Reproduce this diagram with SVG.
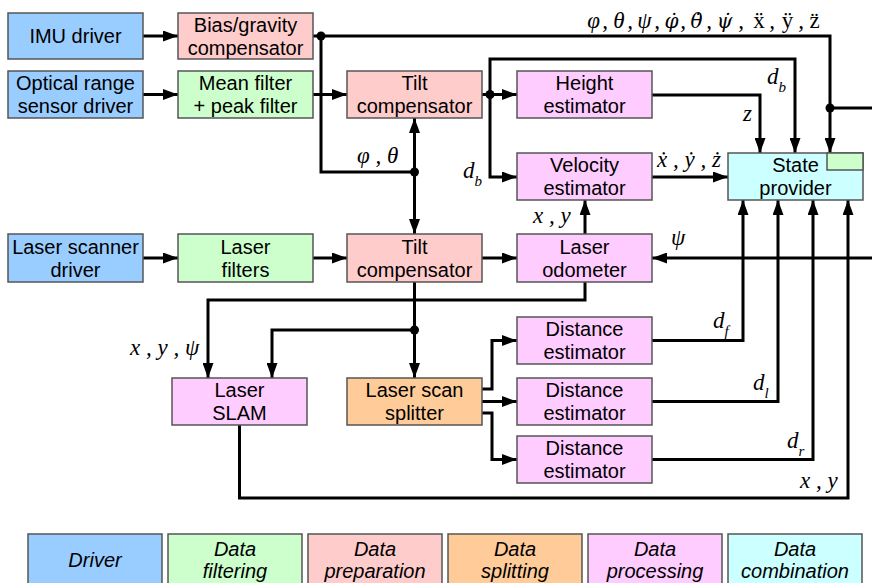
<svg xmlns="http://www.w3.org/2000/svg" width="872" height="583" viewBox="0 0 872 583">
<style>
.box{stroke:#555;stroke-width:1.5}
.drv{fill:#99ccff}.flt{fill:#ccffcc}.prp{fill:#ffcccc}.spl{fill:#ffcc99}.prc{fill:#ffccff}.cmb{fill:#ccffff}
.t{font-family:"Liberation Sans",Arial,sans-serif;font-size:20px;fill:#000;text-anchor:middle}
.lg{font-family:"Liberation Sans",Arial,sans-serif;font-size:20px;font-style:italic;fill:#000;text-anchor:middle}
.m{font-family:"Liberation Serif","DejaVu Serif",serif;font-size:23px;font-style:italic;fill:#000}
.mc{text-anchor:middle}
.mu{font-style:normal}
.dj{font-family:"DejaVu Serif",serif;font-size:20px}
.sub{font-size:15px}
.c{fill:none;stroke:#000;stroke-width:3}
.a{marker-end:url(#ah)}
</style>
<defs>
<marker id="ah" markerUnits="userSpaceOnUse" markerWidth="15" markerHeight="11" refX="15" refY="5.5" orient="auto">
<path d="M0,0 L15,5.5 L0,11 z" fill="#000"/>
</marker>
</defs>

<g id="connectors">
<path class="c a" d="M143,36 H178"/>
<path class="c a" d="M143,94.5 H178"/>
<path class="c a" d="M313,94.5 H347"/>
<path class="c a" d="M313,36 H830 V153"/>
<path class="c" d="M830,108 H872"/>
<path class="c" d="M321,36 V172 H414.5"/>
<path class="c a" d="M414.5,172 V118"/>
<path class="c a" d="M414.5,172 V234"/>
<path class="c a" d="M482,94.5 H517"/>
<path class="c a" d="M490,94.5 V59 H795 V153"/>
<path class="c a" d="M490,94.5 V177 H517"/>
<path class="c a" d="M652,95 H760 V153"/>
<path class="c a" d="M652,177 H728"/>
<path class="c a" d="M585,234 V200"/>
<path class="c a" d="M872,258 H652"/>
<path class="c a" d="M143,258 H178"/>
<path class="c a" d="M313,258 H347"/>
<path class="c a" d="M482,258 H517"/>
<path class="c a" d="M585,282 V300 H208 V378"/>
<path class="c a" d="M414.5,282 V378"/>
<path class="c a" d="M414.5,330 H272 V378"/>
<path class="c a" d="M482,389 H492 V340.5 H517"/>
<path class="c a" d="M482,401.5 H517"/>
<path class="c a" d="M482,413 H492 V459.5 H517"/>
<path class="c a" d="M652,340.5 H743 V200"/>
<path class="c a" d="M652,401.5 H778 V200"/>
<path class="c a" d="M652,459.5 H813 V200"/>
<path class="c a" d="M239.5,425 V498 H848 V200"/>
<circle cx="321" cy="36" r="4.5"/>
<circle cx="830" cy="108" r="4.5"/>
<circle cx="414.5" cy="172" r="4.5"/>
<circle cx="490" cy="94.5" r="4.5"/>
<circle cx="414.5" cy="330" r="4.5"/>
</g>

<g id="labels">
<text class="m mc" id="imu-state-label"><tspan x="593.5" y="28">φ</tspan><tspan x="605" y="28">,</tspan><tspan x="619" y="28">θ</tspan><tspan x="630" y="28">,</tspan><tspan x="644.5" y="28">ψ</tspan><tspan x="657" y="28">,</tspan><tspan class="dj" x="671.5" y="28">φ̇</tspan><tspan x="683" y="28">,</tspan><tspan class="dj" x="696.5" y="28">θ̇</tspan><tspan x="709" y="28">,</tspan><tspan class="dj" x="724.5" y="28">ψ̇</tspan><tspan x="741" y="28">,</tspan><tspan class="mu" x="759" y="28">ẍ</tspan><tspan x="772" y="28">,</tspan><tspan class="mu" x="787.5" y="28">ÿ</tspan><tspan x="801" y="28">,</tspan><tspan class="mu" x="814.5" y="28">z̈</tspan></text>
<text class="m" x="357" y="163">φ , θ</text>
<text class="m" x="463" y="178">d<tspan class="sub" dy="8">b</tspan></text>
<text class="m" x="767" y="84">d<tspan class="sub" dy="8">b</tspan></text>
<text class="m" x="743" y="121">z</text>
<text class="m" x="657" y="167">ẋ , ẏ , ż</text>
<text class="m" x="533" y="223">x , y</text>
<text class="m" x="671" y="245">ψ</text>
<text class="m" x="130" y="355">x , y , ψ</text>
<text class="m" x="713" y="328">d<tspan class="sub" dy="8">f</tspan></text>
<text class="m" x="753" y="390">d<tspan class="sub" dy="8">l</tspan></text>
<text class="m" x="787" y="448">d<tspan class="sub" dy="8">r</tspan></text>
<text class="m" x="800" y="488">x , y</text>
</g>

<g id="imu-driver"><rect class="box drv" x="8" y="13" width="135" height="46"/><text class="t" x="75.5" y="43">IMU driver</text></g>
<g id="bias-gravity"><rect class="box prp" x="178" y="13" width="135" height="46"/><text class="t" x="245.5" y="32">Bias/gravity</text><text class="t" x="245.5" y="55">compensator</text></g>
<g id="optical-driver"><rect class="box drv" x="8" y="71" width="135" height="47"/><text class="t" x="75.5" y="90">Optical range</text><text class="t" x="75.5" y="113">sensor driver</text></g>
<g id="mean-filter"><rect class="box flt" x="178" y="71" width="135" height="47"/><text class="t" x="245.5" y="90">Mean filter</text><text class="t" x="245.5" y="113">+ peak filter</text></g>
<g id="tilt-comp-1"><rect class="box prp" x="347" y="71" width="135" height="47"/><text class="t" x="414.5" y="90">Tilt</text><text class="t" x="414.5" y="113">compensator</text></g>
<g id="height-est"><rect class="box prc" x="517" y="71" width="135" height="47"/><text class="t" x="584.5" y="90">Height</text><text class="t" x="584.5" y="113">estimator</text></g>
<g id="velocity-est"><rect class="box prc" x="517" y="153" width="135" height="47"/><text class="t" x="584.5" y="172">Velocity</text><text class="t" x="584.5" y="195">estimator</text></g>
<g id="state-provider"><rect class="box cmb" x="728" y="153" width="135" height="47"/><rect class="box flt" x="827" y="153" width="36" height="17"/><text class="t" x="795.5" y="172">State</text><text class="t" x="795.5" y="195">provider</text></g>
<g id="laser-driver"><rect class="box drv" x="8" y="234" width="135" height="48"/><text class="t" x="75.5" y="254">Laser scanner</text><text class="t" x="75.5" y="277">driver</text></g>
<g id="laser-filters"><rect class="box flt" x="178" y="234" width="135" height="48"/><text class="t" x="245.5" y="254">Laser</text><text class="t" x="245.5" y="277">filters</text></g>
<g id="tilt-comp-2"><rect class="box prp" x="347" y="234" width="135" height="48"/><text class="t" x="414.5" y="254">Tilt</text><text class="t" x="414.5" y="277">compensator</text></g>
<g id="laser-odometer"><rect class="box prc" x="517" y="234" width="135" height="48"/><text class="t" x="584.5" y="254">Laser</text><text class="t" x="584.5" y="277">odometer</text></g>
<g id="laser-slam"><rect class="box prc" x="172" y="378" width="135" height="47"/><text class="t" x="239.5" y="397">Laser</text><text class="t" x="239.5" y="420">SLAM</text></g>
<g id="scan-splitter"><rect class="box spl" x="347" y="378" width="135" height="47"/><text class="t" x="414.5" y="397">Laser scan</text><text class="t" x="414.5" y="420">splitter</text></g>
<g id="distance-est-1"><rect class="box prc" x="517" y="317" width="135" height="47"/><text class="t" x="584.5" y="336">Distance</text><text class="t" x="584.5" y="359">estimator</text></g>
<g id="distance-est-2"><rect class="box prc" x="517" y="378" width="135" height="47"/><text class="t" x="584.5" y="397">Distance</text><text class="t" x="584.5" y="420">estimator</text></g>
<g id="distance-est-3"><rect class="box prc" x="517" y="436" width="135" height="47"/><text class="t" x="584.5" y="455">Distance</text><text class="t" x="584.5" y="478">estimator</text></g>

<g id="legend">
<g id="legend-driver"><rect class="box drv" x="28" y="534" width="134" height="60"/><text class="lg" x="95" y="567">Driver</text></g>
<g id="legend-filtering"><rect class="box flt" x="168" y="534" width="134" height="60"/><text class="lg" x="235" y="556">Data</text><text class="lg" x="235" y="578">filtering</text></g>
<g id="legend-preparation"><rect class="box prp" x="308" y="534" width="134" height="60"/><text class="lg" x="375" y="556">Data</text><text class="lg" x="375" y="578">preparation</text></g>
<g id="legend-splitting"><rect class="box spl" x="448" y="534" width="134" height="60"/><text class="lg" x="515" y="556">Data</text><text class="lg" x="515" y="578">splitting</text></g>
<g id="legend-processing"><rect class="box prc" x="588" y="534" width="134" height="60"/><text class="lg" x="655" y="556">Data</text><text class="lg" x="655" y="578">processing</text></g>
<g id="legend-combination"><rect class="box cmb" x="728" y="534" width="134" height="60"/><text class="lg" x="795" y="556">Data</text><text class="lg" x="795" y="578">combination</text></g>
</g>
</svg>
